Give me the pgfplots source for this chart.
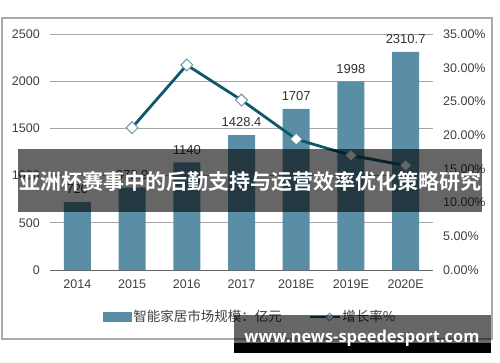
\documentclass[border=0pt]{standalone}
\usepackage{pgfplots}
\pgfplotsset{compat=1.18}
\usepackage{graphicx}
\usepackage{fontspec}
\setmainfont{Liberation Sans}
\newfontfamily\cjk{Noto Sans CJK SC}[BoldFont={Noto Sans CJK SC Bold}]
\newfontfamily\wm{Open Sans}
\usetikzlibrary{shapes.geometric}
\definecolor{barc}{RGB}{90,142,166}
\definecolor{linec}{RGB}{14,88,110}
\definecolor{mkc}{RGB}{100,150,172}
\definecolor{txt}{RGB}{64,64,64}
\definecolor{gridc}{RGB}{166,166,166}
\definecolor{framec}{RGB}{170,170,170}
\begin{document}
\begin{tikzpicture}
\path[use as bounding box, fill=white] (0pt,0pt) rectangle (500pt,362pt);
\draw[framec, line width=1.5pt] (2pt,23pt) rectangle (492pt,344pt);
\begin{axis}[
  at={(50pt,92pt)}, anchor=south west, scale only axis,
  width=383pt, height=236pt,
  xmin=-0.5, xmax=6.5, ymin=0, ymax=2500,
  xtick={0,...,6},
  xticklabels={2014,2015,2016,2017,2018E,2019E,2020E},
  ytick={0,500,...,2500},
  /pgf/number format/.cd, 1000 sep={}, assume math mode=true, /pgfplots/.cd,
  major tick length=0pt,
  axis x line*=bottom, axis y line*=left,
  y axis line style={draw=none},
  x axis line style={-, draw=txt!80, line width=1pt},
  ymajorgrids, grid style={gridc, line width=0.8pt},
  tick label style={font=\fontsize{12.5}{14}\selectfont, text=txt},
  yticklabel style={anchor=east, inner sep=0pt, xshift=-10pt},
  xticklabel style={anchor=north, inner sep=0pt, yshift=-10pt},
  legend style={draw=none, fill=none, at={(0.522,-0.199)}, anchor=center,
    font=\cjk\fontsize{13.5}{15}\selectfont, text=txt,
    legend columns=2, column sep=0pt,
    /tikz/every even column/.append style={column sep=26pt},
    nodes={inner sep=1pt}},
  legend cell align=left,
]
\addplot[ybar, bar width=27pt, fill=barc, draw=none,
  point meta=explicit symbolic, nodes near coords,
  nodes near coords style={font=\fontsize{13}{15}\selectfont, text=txt!80!black, anchor=south, inner sep=0pt, yshift=8pt},
  legend image code/.code={\fill[barc] (0pt,-5pt) rectangle (29pt,5pt);}]
  coordinates {(0,720)[720] (1,872.9)[872.9] (2,1140)[1140] (3,1428.4)[1428.4] (4,1707)[1707] (5,1998)[1998] (6,2310.7)[2310.7]};
\addlegendentry{智能家居市场规模：亿元}
\addlegendimage{legend image code/.code={\draw[linec, line width=2.5pt] (0pt,0pt) -- (30pt,0pt); \node[diamond, draw=mkc, fill=white, inner sep=0pt, minimum size=8pt, line width=0.8pt] at (15pt,0pt) {};}}
\addlegendentry{增长率\%}
\end{axis}
\begin{axis}[
  at={(50pt,92pt)}, anchor=south west, scale only axis,
  width=383pt, height=236pt,
  xmin=-0.5, xmax=6.5, ymin=0, ymax=35,
  axis x line=none, axis y line*=right,
  y axis line style={draw=none},
  major tick length=0pt,
  ytick={0,5,...,35},
  yticklabels={0.00\%,5.00\%,10.00\%,15.00\%,20.00\%,25.00\%,30.00\%,35.00\%},
  tick label style={font=\fontsize{12.5}{14}\selectfont, text=txt},
  yticklabel style={anchor=west, inner sep=0pt, xshift=10pt},
]
\addplot[linec, line width=2.8pt, mark=square*, mark size=4.2pt,
  mark options={fill=white, draw=mkc, line width=1pt, rotate=45}]
  coordinates {(1,21.1) (2,30.4) (3,25.2) (4,19.4) (5,17.0) (6,15.5)};
\end{axis}
\fill[black, opacity=0.6] (18pt,150pt) rectangle (482pt,213pt);
\node[text=white, font=\cjk\bfseries\fontsize{21}{24}\selectfont] at (250pt,181pt) {亚洲杯赛事中的后勤支持与运营效率优化策略研究};
\fill[black, opacity=0.6] (234pt,19pt) rectangle (491pt,47pt);
\fill[black] (234pt,9pt) rectangle (491pt,19pt);
\node[text=white, font=\wm\bfseries, anchor=base, inner sep=0pt] at (362pt,20pt) {\resizebox{235pt}{!}{www.news-speedesport.com}};
\end{tikzpicture}
\end{document}
